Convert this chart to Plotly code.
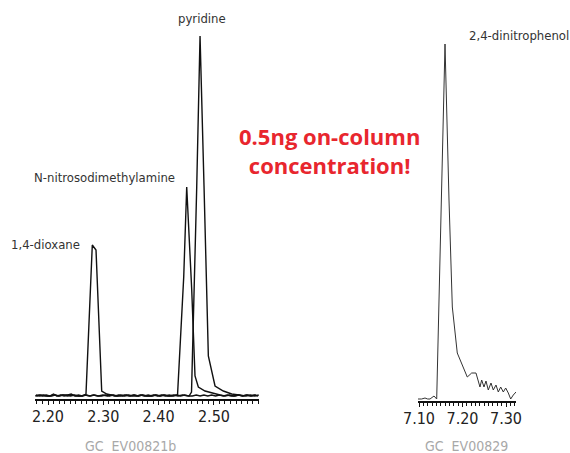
import plotly.graph_objects as go

W, H = 570, 453

# ---- data: left chromatogram (GC EV00821b) ----
dioxane_t = [2.177, 2.184, 2.190, 2.197, 2.203, 2.210, 2.216, 2.223, 2.229, 2.236, 2.242, 2.249,
             2.255, 2.262, 2.2687, 2.2801, 2.2868, 2.2971, 2.3062, 2.314, 2.321, 2.328, 2.335,
             2.342, 2.349, 2.356, 2.363, 2.370, 2.377, 2.384, 2.391, 2.398, 2.405, 2.412, 2.419,
             2.426, 2.433, 2.440, 2.447, 2.454, 2.461, 2.468, 2.475, 2.482, 2.489, 2.496, 2.503,
             2.510, 2.517, 2.524, 2.531, 2.538, 2.545, 2.552, 2.559, 2.566, 2.573, 2.580]
dioxane_i = [1, 2, 1, 2, 1, 3, 1, 2, 1, 2, 3, 1,
             2, 1, 3, 152, 147, 6, 3, 2, 1, 2, 1,
             2, 1, 2, 1, 2, 1, 1, 2, 1, 2, 1, 2,
             1, 2, 1, 2, 1, 1, 2, 1, 2, 1, 2, 1,
             2, 1, 2, 1, 1, 2, 1, 2, 1, 2, 1]

ndma_t = [2.178, 2.185, 2.192, 2.199, 2.206, 2.213, 2.220, 2.227, 2.234, 2.241, 2.248, 2.255,
          2.262, 2.269, 2.276, 2.283, 2.290, 2.297, 2.304, 2.311, 2.318, 2.325, 2.332, 2.339,
          2.346, 2.353, 2.360, 2.367, 2.374, 2.381, 2.388, 2.395, 2.402, 2.409, 2.416, 2.423,
          2.4342, 2.4454, 2.4508, 2.4598, 2.4658, 2.4718, 2.4839, 2.4960, 2.5110, 2.520, 2.528,
          2.536, 2.544, 2.552, 2.560, 2.568, 2.576]
ndma_i = [2, 1, 2, 1, 1, 2, 1, 2, 2, 1, 2, 1,
          1, 2, 1, 2, 1, 1, 2, 1, 2, 1, 2, 1,
          2, 1, 1, 2, 1, 2, 1, 2, 1, 2, 1, 1,
          2, 120, 210, 108, 21, 10, 6, 4, 2, 1, 2,
          1, 2, 1, 2, 1, 2]

pyridine_t = [2.179, 2.187, 2.195, 2.203, 2.211, 2.219, 2.227, 2.235, 2.243, 2.251, 2.259, 2.267,
              2.275, 2.283, 2.291, 2.299, 2.307, 2.315, 2.323, 2.331, 2.339, 2.347, 2.355, 2.363,
              2.371, 2.379, 2.387, 2.395, 2.403, 2.411, 2.419, 2.427, 2.435, 2.443, 2.4550,
              2.4595, 2.4689, 2.4749, 2.4821, 2.4899, 2.5020, 2.5170, 2.5322, 2.5503, 2.558,
              2.566, 2.574, 2.581]
pyridine_i = [1, 2, 1, 1, 2, 1, 2, 1, 2, 1, 1, 2,
              1, 2, 1, 2, 1, 2, 1, 1, 2, 1, 2, 1,
              2, 1, 1, 2, 1, 2, 1, 2, 1, 2, 1,
              5, 210, 361, 211, 41, 11, 6, 3, 2, 1,
              2, 1, 2]

# ---- data: right chromatogram (GC EV00829) ----
dnp_t = [7.0977, 7.1060, 7.1138, 7.1200, 7.1253, 7.1345, 7.1407, 7.1598, 7.1690, 7.1766,
         7.1880, 7.1982, 7.2110, 7.2211, 7.2310, 7.2402, 7.2441, 7.2494, 7.2540, 7.2593,
         7.2655, 7.2708, 7.2770, 7.2823, 7.2878, 7.2938, 7.2993, 7.3053, 7.3108, 7.3168, 7.3230]
dnp_i = [0, 0, 1, 0, 0, 3, 0, 355, 199, 92,
         46, 36, 22, 26, 26, 12, 19, 12, 18, 9,
         16, 9, 14, 7, 12, 7, 11, 6, 0, 4, 7]

left_ticks = [2.20, 2.30, 2.40, 2.50]
left_tick_labels = ["2.20", "2.30", "2.40", "2.50"]
right_ticks = [7.10, 7.20, 7.30]
right_tick_labels = ["7.10", "7.20", "7.30"]

peak_labels = ["1,4-dioxane", "N-nitrosodimethylamine", "pyridine", "2,4-dinitrophenol"]
method_labels = ["GC  EV00821b", "GC  EV00829"]
headline = "0.5ng on-column<br>concentration!"

# ---- layout helpers (pixels -> paper fractions) ----
def fx(px):
    return px / W

def fy(py):
    return 1 - py / H

NARROW = "Liberation Sans Narrow, DejaVu Sans Condensed, Roboto, sans-serif"

fig = go.Figure()
for t, i in [(dioxane_t, dioxane_i), (ndma_t, ndma_i), (pyridine_t, pyridine_i)]:
    fig.add_trace(go.Scatter(x=t, y=i, mode="lines", xaxis="x", yaxis="y",
                             line=dict(color="#111111", width=1.4), hoverinfo="skip",
                             showlegend=False))
fig.add_trace(go.Scatter(x=dnp_t, y=dnp_i, mode="lines", xaxis="x2", yaxis="y2",
                         line=dict(color="#333333", width=1), hoverinfo="skip",
                         showlegend=False))

axis_common = dict(showgrid=False, zeroline=False, showline=True, linecolor="#111111",
                   linewidth=2, ticks="outside", ticklen=4, tickwidth=1, tickcolor="#111111",
                   tickfont=dict(family=NARROW, size=16, color="#222222"), fixedrange=True,
                   automargin=False, ticklabelstandoff=-2)

fig.update_layout(
    width=W, height=H, margin=dict(l=0, r=0, t=0, b=0, pad=0, autoexpand=False),
    autosize=False,
    paper_bgcolor="white", plot_bgcolor="white", showlegend=False,
    xaxis=dict(domain=[fx(35), fx(259)], range=[2.1765, 2.5815], anchor="y",
               tickvals=left_ticks, ticktext=left_tick_labels,
               minor=dict(dtick=0.01, tick0=2.2, ticks="outside", ticklen=3, tickcolor="#111111"),
               **axis_common),
    yaxis=dict(domain=[fy(399), fy(30)], range=[-2, 367], visible=False, fixedrange=True),
    xaxis2=dict(domain=[fx(418), fx(516)], range=[7.0977, 7.323], anchor="y2",
                tickvals=right_ticks, ticktext=right_tick_labels,
                minor=dict(dtick=0.01, tick0=7.1, ticks="outside", ticklen=3, tickcolor="#111111"),
                **axis_common),
    yaxis2=dict(domain=[fy(401), fy(32)], range=[-2, 367], visible=False, fixedrange=True),
)

lab_font = dict(family=NARROW, size=13, color="#333333")
ann = [
    (peak_labels[0], 45, 244),
    (peak_labels[1], 104, 177),
    (peak_labels[2], 202, 19),
    (peak_labels[3], 519, 36),
]
for text, x, y in ann:
    fig.add_annotation(text=text, x=fx(x), y=fy(y), xref="paper", yref="paper",
                       showarrow=False, font=lab_font, xanchor="center", yanchor="middle")

fig.add_annotation(text=headline, x=fx(329), y=fy(151), xref="paper", yref="paper",
                   showarrow=False, xanchor="center", yanchor="middle", align="center",
                   font=dict(family="Open Sans", size=22, color="#e8262e", weight="bold"))

gray = dict(family=NARROW, size=14, color="#a8a8a8")
for text, x in [(method_labels[0], 130), (method_labels[1], 466)]:
    fig.add_annotation(text=text.replace("  ", "&nbsp;&nbsp;"), x=fx(x), y=fy(446),
                       xref="paper", yref="paper", showarrow=False, font=gray,
                       xanchor="center", yanchor="middle", borderpad=0)

fig.write_html("out.html", config=dict(displayModeBar=False, staticPlot=True),
               post_script="document.body.style.margin='0';document.body.style.overflow='hidden';")
